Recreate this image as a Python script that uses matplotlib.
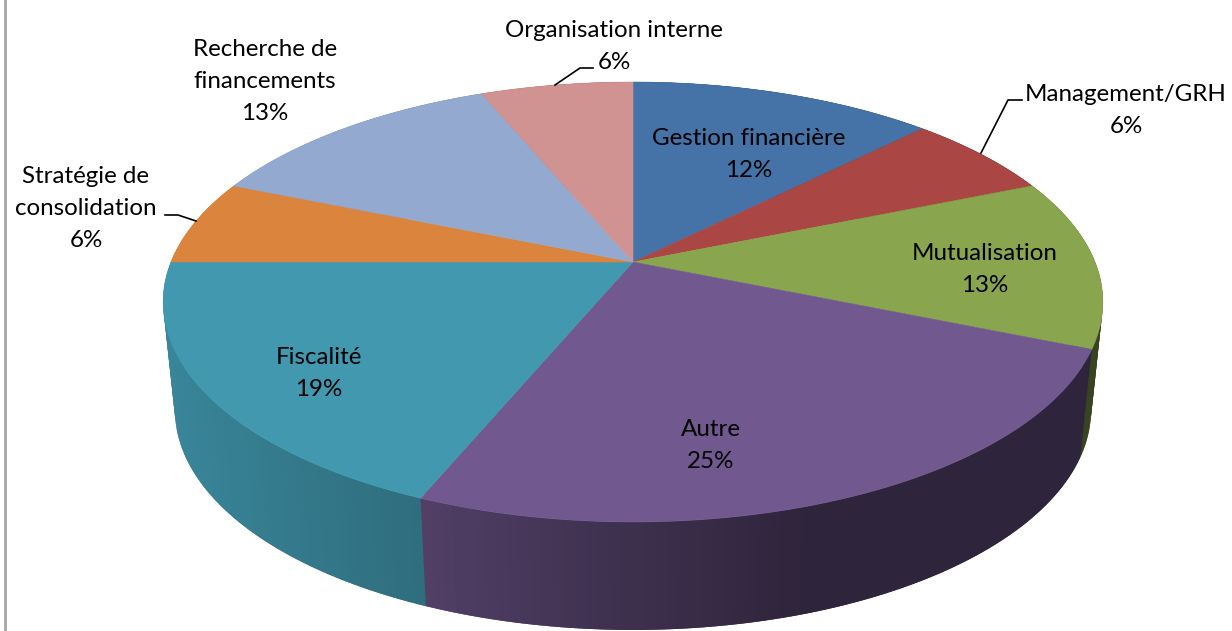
import numpy as np
import matplotlib
matplotlib.use("Agg")
import matplotlib.pyplot as plt

categories = ["Gestion financière", "Management/GRH", "Mutualisation", "Autre",
              "Fiscalité", "Stratégie de\nconsolidation", "Recherche de\nfinancements",
              "Organisation interne"]
shares = [12.5, 6.25, 12.5, 25, 18.75, 6.25, 12.5, 6.25]
percent_labels = ["12%", "6%", "13%", "25%", "19%", "6%", "13%", "6%"]
colors = ["#4572A7", "#AA4643", "#89A54E", "#71588F", "#4198AF", "#DB843D", "#93A9CF", "#D19392"]

# label centres in pixels
label_pos = [(749, 154.5), (1126, 110.5), (985, 269.5), (711, 445.5),
             (319, 373.5), (86, 208.5), (265, 81.5), (614, 46.5)]
leaders = {1: [(981, 153), (1008, 100), (1022, 100)],
           5: [(196, 221), (178, 215), (165, 215)],
           7: [(555, 85), (580, 68), (593, 68)]}

cx, cy = 633, 262
A, B, k = 462, 212.7, 0.1818
depth = 108
shrink = 0.975


def project(theta, lower=False):
    u, v = np.sin(theta), np.cos(theta)
    w = 1 + k * v
    x = A * u / w
    y = B * v / w
    if lower:
        return cx + shrink * x, cy + depth - y
    return cx + x, cy - y


def side_shade(x):
    return np.interp(x, [165, 425, 620, 800, 1100], [0.88, 0.72, 0.55, 0.41, 0.41])


def darker(color, f):
    rgb = np.array(matplotlib.colors.to_rgb(color))
    return tuple(rgb * f)


fig = plt.figure(figsize=(12.32, 6.31), dpi=100)
ax = fig.add_axes([0, 0, 1, 1])
ax.set_xlim(0, 1232)
ax.set_ylim(631, 0)
ax.axis("off")

edges = np.radians(np.cumsum([0] + shares) * 3.6)

# side of the pie, back strips first. each strip runs a bit under the next one
# towards the front so no seams show
strips = []
for i in range(len(shares)):
    thetas = np.linspace(edges[i], edges[i + 1], int(shares[i] * 3) + 2)
    for t0, t1 in zip(thetas[:-1], thetas[1:]):
        mid = (t0 + t1) / 2
        if mid < np.pi:
            t1 = t1 + 0.02
        else:
            t0 = t0 - 0.02
        x0, y0 = project(t0)
        x1, y1 = project(t1)
        x2, y2 = project(t1, True)
        x3, y3 = project(t0, True)
        strips.append((-np.cos(mid), [x0, x1, x2, x3], [y0, y1, y2, y3], colors[i]))
strips.sort(key=lambda s: s[0])
for _, xs, ys, col in strips:
    c = darker(col, side_shade(np.mean(xs)))
    ax.fill(xs, ys, color=c, lw=0, zorder=1)

# top face
for i in range(len(shares)):
    thetas = np.linspace(edges[i], edges[i + 1], 120)
    x, y = project(thetas)
    ax.fill(np.r_[cx, x], np.r_[cy, y], color=colors[i], lw=0.4, zorder=2)

for i in range(len(categories)):
    ax.text(label_pos[i][0], label_pos[i][1], categories[i] + "\n" + percent_labels[i],
            ha="center", va="center", fontsize=17.4, family="Lato", color="black",
            linespacing=1.65, zorder=4)

for pts in leaders.values():
    ax.plot([p[0] for p in pts], [p[1] for p in pts], color="black", lw=1.2, zorder=3)

ax.plot([5, 5], [0, 631], color="#a6a6a6", lw=2, zorder=3)

fig.savefig("out.png", dpi=100)
